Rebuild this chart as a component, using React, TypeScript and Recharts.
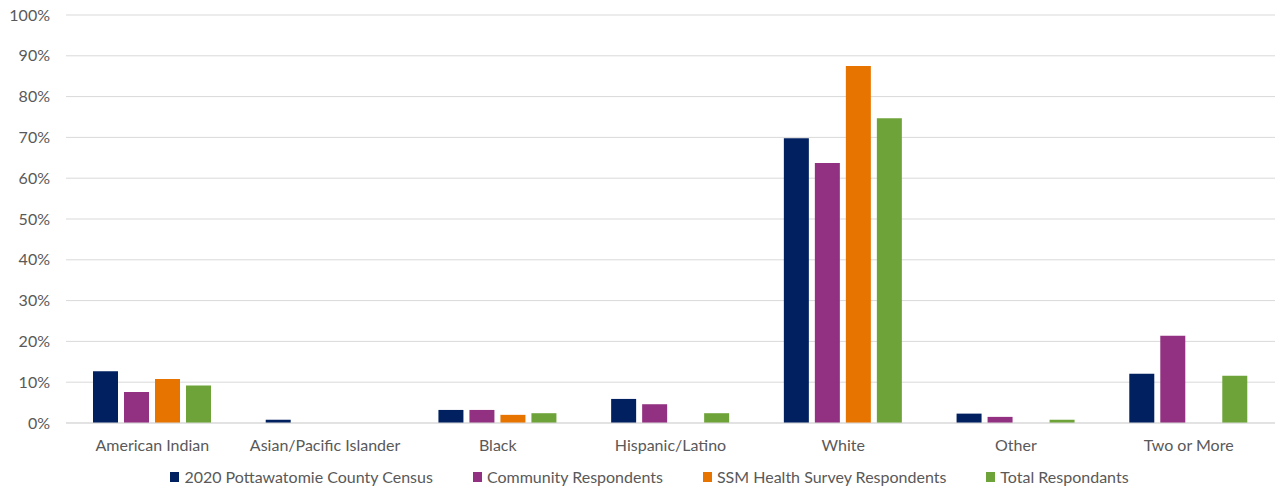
import React from "react";
import {
  BarChart,
  Bar,
  XAxis,
  YAxis,
  CartesianGrid,
  Legend,
} from "recharts";

const groups = [
  "American Indian",
  "Asian/Pacific Islander",
  "Black",
  "Hispanic/Latino",
  "White",
  "Other",
  "Two or More",
];

const census = [12.7, 0.8, 3.2, 5.9, 69.8, 2.3, 12.1];
const community = [7.6, 0, 3.2, 4.6, 63.7, 1.5, 21.4];
const ssm = [10.8, 0, 2.0, 0, 87.5, 0, 0];
const total = [9.2, 0, 2.4, 2.4, 74.7, 0.8, 11.6];

const yTicks = [0, 10, 20, 30, 40, 50, 60, 70, 80, 90, 100];

const series = [
  { key: "census", name: "2020 Pottawatomie County Census", color: "#002060" },
  { key: "community", name: "Community Respondents", color: "#923081" },
  { key: "ssm", name: "SSM Health Survey Respondents", color: "#E87400" },
  { key: "total", name: "Total Respondants", color: "#6EA339" },
];

const data = groups.map((g, i) => ({
  group: g,
  census: census[i],
  community: community[i],
  ssm: ssm[i],
  total: total[i],
}));

const FONT = "Lato, 'Open Sans', sans-serif";
const TEXT = "#595959";

const renderLegend = () => (
  <div
    style={{
      display: "flex",
      justifyContent: "center",
      gap: 40,
      fontFamily: FONT,
      fontSize: 16,
      lineHeight: "20px",
      color: TEXT,
      height: 33,
      boxSizing: "border-box",
      paddingTop: 4,
      paddingLeft: 24,
      alignItems: "center",
    }}
  >
    {series.map((s) => (
      <div key={s.key} style={{ display: "flex", alignItems: "center" }}>
        <span
          style={{
            display: "inline-block",
            width: 9,
            height: 10,
            background: s.color,
            marginRight: 5,
          }}
        />
        {s.name}
      </div>
    ))}
  </div>
);

export default function App() {
  return (
    <div
      style={{
        position: "fixed",
        top: 0,
        left: 0,
        width: 1277,
        height: 491,
        background: "#fff",
      }}
    >
      <BarChart
        width={1277}
        height={491}
        data={data}
        margin={{ top: 15, right: 2, bottom: 0, left: 0 }}
        barCategoryGap={27}
        barGap={6}
      >
        <CartesianGrid vertical={false} stroke="#D9D9D9" />
        <XAxis
          dataKey="group"
          height={35}
          tickLine={false}
          axisLine={{ stroke: "#D9D9D9" }}
          tickMargin={11}
          tick={{ fill: TEXT, fontSize: 16, fontFamily: FONT }}
          interval={0}
        />
        <YAxis
          width={66}
          domain={[0, 100]}
          ticks={yTicks}
          tickFormatter={(v) => `${v}%`}
          axisLine={false}
          tickLine={false}
          tickMargin={10}
          tick={{ fill: TEXT, fontSize: 16, fontFamily: FONT }}
        />
        <Legend verticalAlign="bottom" content={renderLegend} />
        {series.map((s) => (
          <Bar
            key={s.key}
            dataKey={s.key}
            name={s.name}
            fill={s.color}
            isAnimationActive={false}
          />
        ))}
      </BarChart>
    </div>
  );
}
